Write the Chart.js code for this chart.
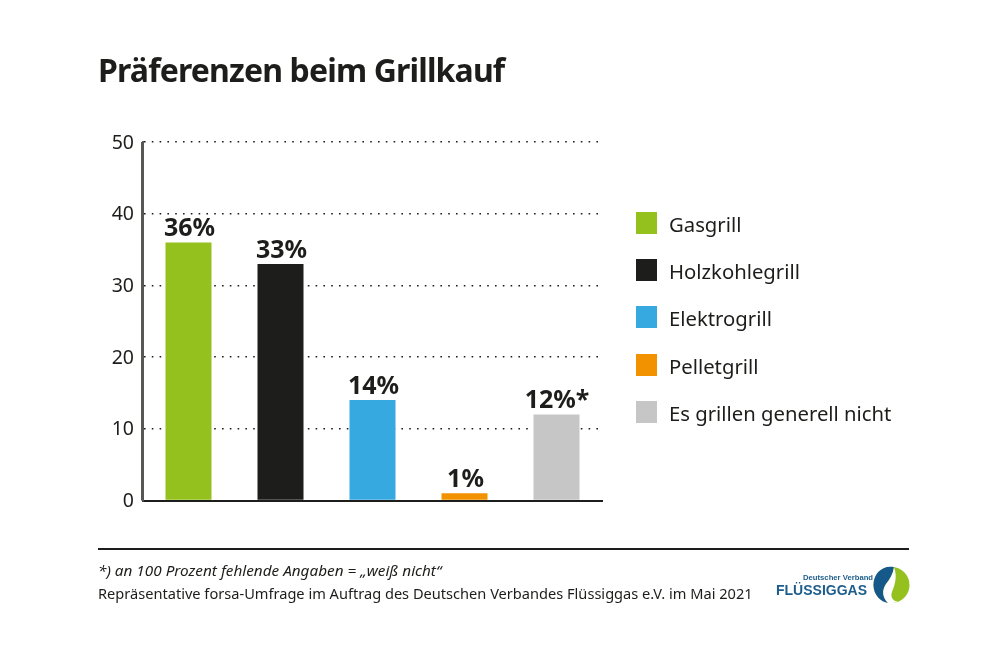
<!DOCTYPE html>
<html lang="de"><head><meta charset="utf-8">
<script src="https://cdn.jsdelivr.net/npm/chart.js@4/dist/chart.umd.min.js"></script>
<style>
html,body{margin:0;padding:0;background:#fff;overflow:hidden}
body{width:1007px;height:671px;position:relative;font-family:"Noto Sans",sans-serif;color:#1d1d1b}
#c{position:absolute;left:0;top:0}
.t{position:absolute;white-space:nowrap;line-height:1}
#title{left:98px;top:54px;font-size:32px;font-weight:700;letter-spacing:-.85px}
#rule{position:absolute;left:98px;top:548px;width:811px;height:2px;background:#1d1d1b}
#note{left:98px;top:563px;font-size:15.3px;font-style:italic}
#src{left:98px;top:586px;font-size:14.6px}
.lb{position:absolute;left:636px;width:21px;height:22px}
.lt{left:669px;font-size:20.3px}
#logo1{left:803px;top:574px;font-size:7.7px;font-weight:700;color:#1c5d8c;font-family:"Liberation Sans"}
#logo2{left:776px;top:583px;font-size:14px;font-weight:700;color:#1c5d8c;font-family:"Liberation Sans"}
#logoSvg{position:absolute;left:873px;top:566px}
</style></head><body>
<canvas id="c" width="1007" height="671"></canvas>
<div class="t" id="title">Präferenzen beim Grillkauf</div>
<div id="legend"></div>
<div id="rule"></div>
<div class="t" id="note">*) an 100 Prozent fehlende Angaben = „weiß nicht“</div>
<div class="t" id="src">Repräsentative forsa-Umfrage im Auftrag des Deutschen Verbandes Flüssiggas e.V. im Mai 2021</div>
<div class="t" id="logo1">Deutscher Verband</div>
<div class="t" id="logo2">FLÜSSIGGAS</div>
<svg id="logoSvg" width="37" height="38" viewBox="0 0 37 38">
<circle cx="18.5" cy="19" r="18" fill="#95c11f"/>
<path d="M21 1.2 C9 -1 0.5 8 0.5 19 C0.5 29 8 36 15 37 C9 31 9 24 13 18 C17 13 20 8 21 1.2Z" fill="#15598a"/>
<path d="M21 1.2 C20 8 17 13 13 18 C9 24 9 31 15 37 C18 37.5 22 37.2 25 35.8 C20 35 17 31 19 26 C21 20 25 12 21 1.2Z" fill="#fff"/>
</svg>
<script>
const categories=["Gasgrill","Holzkohlegrill","Elektrogrill","Pelletgrill","Es grillen generell nicht"];
const values=[36,33,14,1,12];
const valueLabels=["36%","33%","14%","1%","12%*"];
const colors=["#95c11f","#1d1d1b","#36a9e1","#f39200","#c6c6c6"];
const yTicks=[0,10,20,30,40,50];

const legendTops=[212,259,306,354,401];
const legendEl=document.getElementById('legend');
categories.forEach((n,i)=>{
  const b=document.createElement('div');b.className='lb';b.style.top=legendTops[i]+'px';b.style.background=colors[i];legendEl.appendChild(b);
  const t=document.createElement('div');t.className='t lt';t.style.top=(legendTops[i]+2)+'px';t.textContent=n;legendEl.appendChild(t);
});

const valueLabelPlugin={id:'valueLabels',afterDatasetsDraw(chart){
  const {ctx}=chart;const meta=chart.getDatasetMeta(0);
  ctx.save();ctx.font='700 25px "Noto Sans"';ctx.fillStyle='#1d1d1b';ctx.textAlign='center';ctx.textBaseline='alphabetic';
  meta.data.forEach((el,i)=>ctx.fillText(valueLabels[i],el.x+(i===4?0.5:1),el.y-6));
  ctx.restore();
}};
new Chart(document.getElementById('c'),{
  type:'bar',
  data:{labels:categories,datasets:[{data:values,backgroundColor:colors,barPercentage:.5,categoryPercentage:1}]},
  options:{
    responsive:false,animation:false,devicePixelRatio:1,
    layout:{padding:{left:142.5,top:142,right:404.5,bottom:162.5}},
    plugins:{legend:{display:false},title:{display:false},tooltip:{enabled:false}},
    scales:{
      x:{grid:{display:false},ticks:{display:false},border:{color:'#1d1d1b',width:2}},
      y:{min:0,max:50,afterFit(s){s.width=0},
        afterTickToLabelConversion(s){s.ticks=yTicks.map(v=>({value:v,label:String(v)}))},
        grid:{color:'#1d1d1b',lineWidth:1.6,drawTicks:false,drawOnChartArea:true},
        border:{display:true,color:'#575756',width:2,dash:[1.6,6.2]},
        ticks:{display:false}
      }
    }
  },
  plugins:[valueLabelPlugin,{id:'yLabels',afterDraw(chart){
    const {ctx,scales:{y},chartArea:a}=chart;
    ctx.save();ctx.font='19.5px "Noto Sans"';ctx.fillStyle='#1d1d1b';ctx.textAlign='right';ctx.textBaseline='middle';
    yTicks.forEach(v=>ctx.fillText(String(v),134,y.getPixelForValue(v)+1));
    ctx.strokeStyle='#575756';ctx.lineWidth=2;ctx.beginPath();ctx.moveTo(142,a.top);ctx.lineTo(142,a.bottom);ctx.stroke();
    ctx.restore();
  }}]
});
</script></body></html>
